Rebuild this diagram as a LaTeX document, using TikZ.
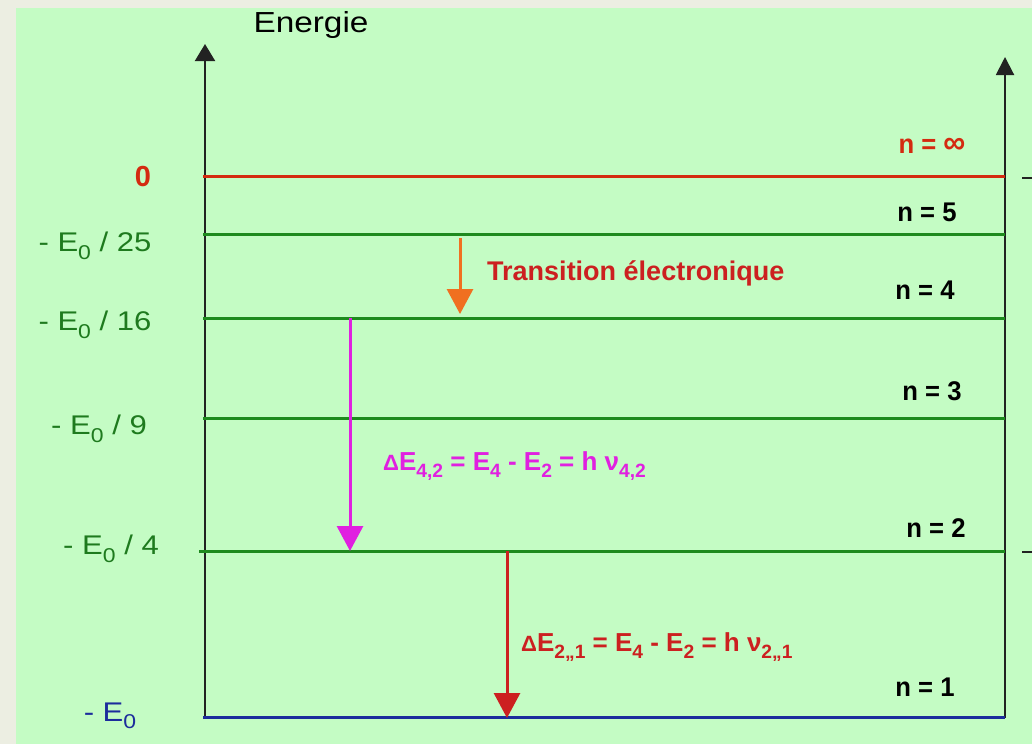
\documentclass[tikz,border=0pt]{standalone}
\usepackage{fontspec}
\usepackage{graphicx}
\setmainfont{Liberation Sans}
\newfontfamily\widefont[FakeStretch=1.15]{Liberation Sans}
\newfontfamily\narrowfont[FakeStretch=0.95]{Liberation Sans}
\usetikzlibrary{arrows.meta}
\definecolor{bgg}{HTML}{C4FCC4}
\definecolor{framec}{HTML}{ECEEE2}
\definecolor{lvl}{HTML}{1E8A1E}
\definecolor{lblg}{HTML}{1E7A1E}
\definecolor{infred}{HTML}{D42A10}
\definecolor{txtred}{HTML}{CC2020}
\definecolor{blu}{HTML}{1C2C9C}
\definecolor{mag}{HTML}{E020E0}
\definecolor{org}{HTML}{F07020}
\definecolor{axc}{HTML}{222222}
\newcommand\lowidx[1]{\raisebox{-0.28em}{\scalebox{0.74}{#1}}}
\tikzset{
  axisline/.style={draw=axc, line width=2pt},
  levelline/.style={line width=3pt},
  trans/.style={line width=3pt, -{Triangle[width=26pt,length=25pt]}},
  nlab/.style={font=\narrowfont\bfseries\fontsize{27}{30}\selectfont, text=black, inner sep=0pt},
  elab/.style={font=\widefont\fontsize{27}{30}\selectfont, text=lblg, inner sep=0pt},
  tlab/.style={font=\bfseries\fontsize{27}{30}\selectfont, inner sep=0pt, anchor=west},
  dlab/.style={font=\bfseries\fontsize{26}{30}\selectfont, inner sep=0pt, anchor=west}
}
\begin{document}
\begin{tikzpicture}[x=1pt,y=-1pt]
\useasboundingbox (0,0) rectangle (1032,744);
\fill[framec] (0,0) rectangle (1032,744);
\fill[bgg] (16,8) rectangle (1032,744);

% axes
\coordinate (lb) at (205,718);
\coordinate (lt) at (205,44);
\coordinate (rb) at (1005,718);
\coordinate (rt) at (1005,57);
\draw[axisline, -{Triangle[width=20pt,length=17pt]}] (lb) -- (lt);
\draw[axisline, -{Triangle[width=18pt,length=18pt]}] (rb) -- (rt);
\node[font=\widefont\fontsize{29}{32}\selectfont, inner sep=0pt] (energie) at (311,25) {Energie};

% level coordinates
\foreach \n/\y in {inf/176, 5/234, 4/318, 3/418, 2/551, 1/717}{
  \coordinate (L\n) at (203,\y);
  \coordinate (R\n) at (1005,\y);
}
\draw[levelline, infred] (Linf) -- (Rinf);
\draw[levelline, lvl] (L5) -- (R5);
\draw[levelline, lvl] (L4) -- (R4);
\draw[levelline, lvl] (L3) -- (R3);
\draw[levelline, lvl] ([xshift=-4pt]L2) -- (R2);
\draw[levelline, blu] (L1) -- (R1);

% right stub ticks
\coordinate (t1a) at (1022,178); \coordinate (t1b) at (1032,178);
\coordinate (t2a) at (1022,552); \coordinate (t2b) at (1032,552);
\draw[axc, line width=1.5pt] (t1a) -- (t1b);
\draw[axc, line width=1.5pt] (t2a) -- (t2b);

% level labels (right)
\node[nlab, text=infred] (ninf) at (932,146) {n = \scalebox{1.2}{∞}};
\node[nlab] (n5) at (927,212) {n = 5};
\node[nlab] (n4) at (925,290) {n = 4};
\node[nlab] (n3) at (932,391) {n = 3};
\node[nlab] (n2) at (936,528) {n = 2};
\node[nlab] (n1) at (925,687) {n = 1};

% energy labels (left)
\node[font=\bfseries\fontsize{29}{30}\selectfont, text=infred, inner sep=0pt] (zero) at (143,177) {0};
\node[elab] (e25) at (95,246) {- E\lowidx{0} / 25};
\node[elab] (e16) at (95,325) {- E\lowidx{0} / 16};
\node[elab] (e9) at (99,429) {- E\lowidx{0} / 9};
\node[elab] (e4) at (111,549) {- E\lowidx{0} / 4};
\node[elab, text=blu] (e1) at (110,716) {- E\lowidx{0}};

% transitions
\coordinate (oa) at (460,238); \coordinate (ob) at (460,314);
\draw[trans, org] (oa) -- (ob);
\node[tlab, text=txtred] (tlabel) at (487,273) {Transition électronique};

\coordinate (ma) at (350,318); \coordinate (mb) at (350,551);
\draw[trans, mag] (ma) -- (mb);
\node[dlab, text=mag] (mlabel) at (383,466)
  {\scalebox{0.85}{Δ}E\lowidx{4,2} = E\lowidx{4} - E\lowidx{2} = h ν\lowidx{4,2}};

\coordinate (ra) at (507,551); \coordinate (rb2) at (507,718);
\draw[trans, txtred] (ra) -- (rb2);
\node[dlab, text=txtred] (rlabel) at (521,647)
  {\scalebox{0.85}{Δ}E\lowidx{2,,1} = E\lowidx{4} - E\lowidx{2} = h ν\lowidx{2,,1}};
\end{tikzpicture}
\end{document}
